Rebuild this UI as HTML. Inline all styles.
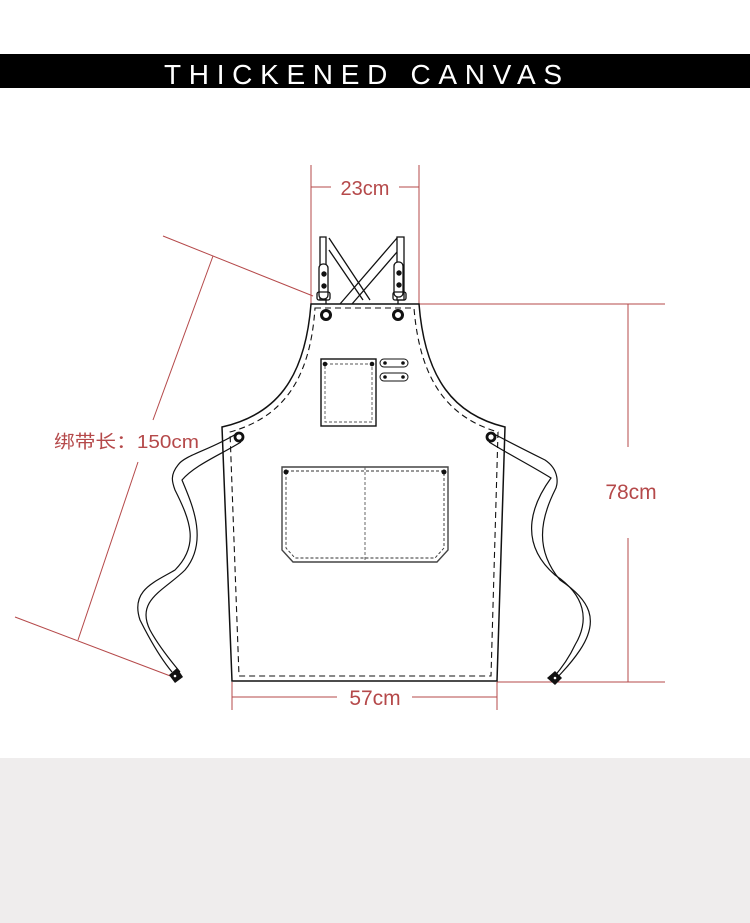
<!DOCTYPE html>
<html><head><meta charset="utf-8"><style>
html,body{margin:0;padding:0;background:#fff;width:750px;height:923px;overflow:hidden}
svg{display:block}
</style></head><body>
<svg width="750" height="923" viewBox="0 0 750 923" xmlns="http://www.w3.org/2000/svg">
<rect x="0" y="758" width="750" height="165" fill="#efeded"/>
<rect x="0" y="54" width="750" height="34" fill="#000"/>
<text x="363" y="84" text-anchor="middle" fill="#fff" font-family="Liberation Sans, sans-serif" font-size="28" textLength="398" lengthAdjust="spacing">THICKENED CANVAS</text>

<g stroke="#b5494a" stroke-width="1" fill="none">
<line x1="311" y1="165" x2="311" y2="304"/>
<line x1="419" y1="165" x2="419" y2="304"/>
<line x1="311" y1="187" x2="331" y2="187"/>
<line x1="399" y1="187" x2="419" y2="187"/>
<line x1="419" y1="304" x2="665" y2="304"/>
<line x1="497" y1="682" x2="665" y2="682"/>
<line x1="628" y1="304" x2="628" y2="447"/>
<line x1="628" y1="538" x2="628" y2="682"/>
<line x1="232" y1="682" x2="232" y2="710"/>
<line x1="497" y1="682" x2="497" y2="710"/>
<line x1="232" y1="697" x2="337" y2="697"/>
<line x1="412" y1="697" x2="497" y2="697"/>
<line x1="163" y1="236" x2="313" y2="296"/>
<line x1="15" y1="617" x2="173" y2="677"/>
<line x1="213" y1="256" x2="153" y2="420"/>
<line x1="138" y1="462" x2="78" y2="640"/>
</g>
<g fill="#b5494a" font-family="Liberation Sans, sans-serif">
<text x="365" y="195" font-size="20" text-anchor="middle">23cm</text>
<text x="631" y="499" font-size="21" text-anchor="middle">78cm</text>
<text x="375" y="705" font-size="21" text-anchor="middle">57cm</text>
<text x="54" y="448" font-size="18" textLength="145" lengthAdjust="spacingAndGlyphs" font-family="Liberation Sans, 'Noto Sans CJK SC', sans-serif">绑带长：150cm</text>
</g>

<!-- straps -->
<g stroke="#111" stroke-width="1.3" fill="none">
<path d="M320 237 L326 237 L326 300 L320 300 Z" fill="#fff"/>
<path d="M397 237 L404 237 L404 300 L397 300 Z" fill="#fff"/>
<path d="M329 238 L370 300 M329 250 L363 300"/>
<path d="M397 238 L340 304 M397 252 L352 304"/>
<rect x="319" y="264" width="9" height="35" rx="4" fill="#fff"/>
<rect x="394" y="262" width="9" height="35" rx="4" fill="#fff"/>
<rect x="317" y="292" width="13" height="8" rx="2"/>
<rect x="393" y="292" width="13" height="8" rx="2"/>
<path d="M326 300 V310 M398 300 V310"/>
</g>
<g fill="#111">
<circle cx="324" cy="274" r="2.7"/><circle cx="324" cy="286" r="2.7"/>
<circle cx="399" cy="273" r="2.7"/><circle cx="399" cy="285" r="2.7"/>
</g>

<!-- body -->
<path d="M311 304 L419 304 C425 380 455 415 505 427 L497 681 L232 681 L222 427 C275 415 305 380 311 304 Z" fill="#fff" stroke="#111" stroke-width="1.5"/>
<path d="M315 308 L414 308 C420 383 450 418 498 432 L491 676 L239 676 L230 432 C280 418 310 383 315 308 Z" fill="none" stroke="#111" stroke-width="1.1" stroke-dasharray="6 4"/>
<circle cx="326" cy="315" r="4.5" fill="none" stroke="#111" stroke-width="3"/>
<circle cx="398" cy="315" r="4.5" fill="none" stroke="#111" stroke-width="3"/>

<!-- chest pocket -->
<rect x="321" y="359" width="55" height="67" fill="#fff" stroke="#111" stroke-width="1.4"/>
<rect x="325" y="364" width="47" height="58" fill="none" stroke="#555" stroke-width="0.9" stroke-dasharray="3 2"/>
<circle cx="325" cy="364" r="2.3" fill="#111"/><circle cx="372" cy="364" r="2.3" fill="#111"/>
<rect x="380" y="359" width="28" height="8" rx="4" fill="none" stroke="#111" stroke-width="1"/>
<rect x="380" y="373" width="28" height="8" rx="4" fill="none" stroke="#111" stroke-width="1"/>
<g fill="#111"><circle cx="385" cy="363" r="1.8"/><circle cx="403" cy="363" r="1.8"/><circle cx="385" cy="377" r="1.8"/><circle cx="403" cy="377" r="1.8"/></g>

<!-- front pocket -->
<path d="M282 467 L448 467 L448 550 L437 562 L293 562 L282 550 Z" fill="#fff" stroke="#444" stroke-width="1.4"/>
<path d="M286 471 L444 471 L444 548 L435 558 L295 558 L286 548 Z" fill="none" stroke="#333" stroke-width="0.9" stroke-dasharray="3 2"/>
<line x1="365" y1="467" x2="365" y2="562" stroke="#555" stroke-width="0.9" stroke-dasharray="3 2"/>
<circle cx="286" cy="472" r="2.5" fill="#111"/><circle cx="444" cy="472" r="2.5" fill="#111"/>

<!-- side eyelets -->
<circle cx="239" cy="437" r="4" fill="#fff" stroke="#111" stroke-width="2.8"/>
<circle cx="491" cy="437" r="4" fill="#fff" stroke="#111" stroke-width="2.8"/>

<!-- left tie -->
<g stroke="#111" stroke-width="1.2" fill="none">
<path d="M236 434 C210 450 185 455 178 465 C170 475 172 482 175 490 C190 520 200 545 175 570 C155 582 130 590 140 620 C150 640 162 660 172 672"/>
<path d="M241 442 C220 455 195 465 182 480 C190 500 210 540 185 570 C165 590 135 600 150 630 C158 645 170 660 180 672"/>
</g>
<path d="M169 675 L177 668 L183 677 L175 683 Z" fill="#111"/>
<circle cx="175" cy="676" r="1.3" fill="#fff"/>

<!-- right tie -->
<g stroke="#111" stroke-width="1.2" fill="none">
<path d="M494 434 C515 445 535 455 545 460 C560 470 558 485 555 490 C540 520 535 550 560 580 C590 600 600 620 580 650 C570 665 562 672 557 678"/>
<path d="M489 442 C510 455 530 465 551 478 C535 500 515 540 555 575 C585 595 590 620 575 645 C568 660 560 670 553 678"/>
</g>
<path d="M547 678 L555 671 L562 678 L555 685 Z" fill="#111"/>
<circle cx="555" cy="678" r="1.3" fill="#fff"/>
</svg>
</body></html>
